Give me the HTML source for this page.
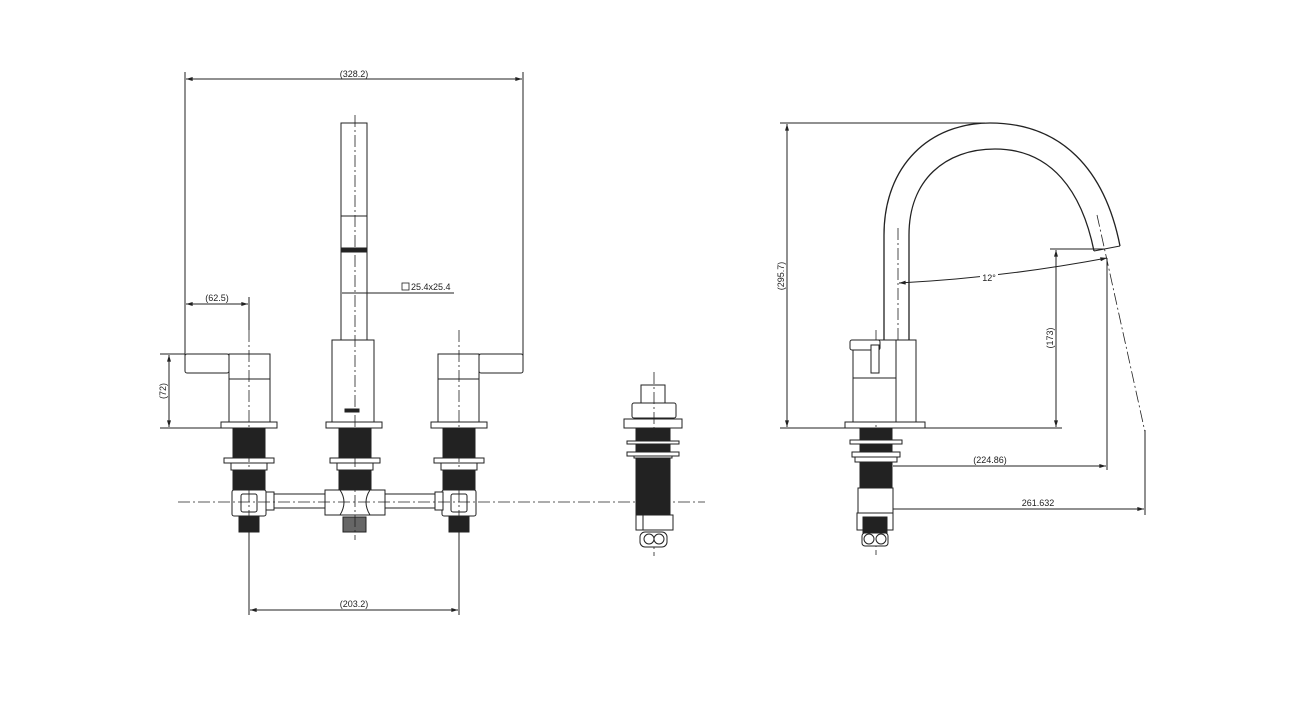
<!DOCTYPE html>
<html><head><meta charset="utf-8"><style>
html,body{margin:0;padding:0;background:#fff;}
svg{display:block;}
text{font-family:"Liberation Sans",sans-serif;font-size:9px;fill:#222;}
</style></head><body>
<svg width="1300" height="705" viewBox="0 0 1300 705" xmlns="http://www.w3.org/2000/svg">
<defs>
<marker id="a" viewBox="0 0 10 6" refX="10" refY="3" markerWidth="10" markerHeight="4" orient="auto-start-reverse"><path d="M0,0L10,3L0,6z" fill="#222"/></marker>
</defs>
<g stroke="#222" stroke-width="1" fill="none">
<!-- ===== LEFT VIEW ===== -->
<!-- dims -->
<line x1="185" y1="72" x2="185" y2="360"/>
<line x1="523" y1="72" x2="523" y2="368"/>
<line x1="186" y1="79" x2="522" y2="79" marker-start="url(#a)" marker-end="url(#a)"/>
<line x1="249" y1="297" x2="249" y2="330"/>
<line x1="186" y1="304" x2="248" y2="304" marker-start="url(#a)" marker-end="url(#a)"/>
<line x1="342" y1="293" x2="454" y2="293"/>
<line x1="160" y1="354" x2="185" y2="354"/>
<line x1="160" y1="428" x2="222" y2="428"/>
<line x1="169" y1="355" x2="169" y2="427" marker-start="url(#a)" marker-end="url(#a)"/>
<line x1="249" y1="532" x2="249" y2="615"/>
<line x1="459" y1="532" x2="459" y2="615"/>
<line x1="250" y1="610" x2="458" y2="610" marker-start="url(#a)" marker-end="url(#a)"/>
<!-- spout -->
<rect x="341" y="123" width="26" height="217"/>
<line x1="341" y1="216" x2="367" y2="216"/>
<rect x="341" y="248" width="26" height="4" fill="#222"/>
<rect x="332" y="340" width="42" height="82"/>
<rect x="326" y="422" width="56" height="6"/>
<rect x="345" y="409" width="14" height="3" fill="#222"/>
<!-- left handle -->
<rect x="185" y="354" width="44" height="19" rx="2"/>
<rect x="229" y="354" width="41" height="68"/>
<line x1="229" y1="379" x2="270" y2="379"/>
<rect x="221" y="422" width="56" height="6"/>
<!-- right handle -->
<rect x="479" y="354" width="44" height="19" rx="2"/>
<rect x="438" y="354" width="41" height="68"/>
<line x1="438" y1="379" x2="479" y2="379"/>
<rect x="431" y="422" width="56" height="6"/>
<!-- shanks -->
<g fill="#222">
<rect x="233" y="428" width="32" height="30"/><rect x="233" y="470" width="32" height="22"/>
<rect x="339" y="428" width="32" height="30"/><rect x="339" y="470" width="32" height="22"/>
<rect x="443" y="428" width="32" height="30"/><rect x="443" y="470" width="32" height="22"/>
<rect x="239" y="517" width="20" height="15"/>
<rect x="449" y="517" width="20" height="15"/>
</g>
<rect x="343" y="517" width="23" height="15" fill="#666"/>
<g fill="#fff">
<rect x="224" y="458" width="50" height="5"/><rect x="231" y="463" width="36" height="7"/>
<rect x="330" y="458" width="50" height="5"/><rect x="337" y="463" width="36" height="7"/>
<rect x="434" y="458" width="50" height="5"/><rect x="441" y="463" width="36" height="7"/>
<rect x="266" y="494" width="59" height="14"/>
<rect x="385" y="494" width="58" height="14"/>
<rect x="232" y="490" width="34" height="26" rx="2"/>
<rect x="241" y="494" width="16" height="18" rx="2"/>
<rect x="442" y="490" width="34" height="26" rx="2"/>
<rect x="451" y="494" width="16" height="18" rx="2"/>
<rect x="266" y="492" width="8" height="18"/>
<rect x="435" y="492" width="8" height="18"/>
<path d="M325,490 H385 V515 H325 Z"/>
<path d="M340,490 Q348,502 340,515 M370,490 Q362,502 370,515"/>
</g>
<!-- centerlines -->
<g stroke-dasharray="12,3,2,3" stroke-width="0.8">
<line x1="178" y1="502" x2="705" y2="502"/>
<line x1="355" y1="115" x2="355" y2="540"/>
<line x1="249" y1="330" x2="249" y2="540"/>
<line x1="459" y1="330" x2="459" y2="540"/>
<line x1="654" y1="372" x2="654" y2="556"/>
</g>
<!-- ===== MIDDLE VIEW ===== -->
<rect x="641" y="385" width="24" height="18"/>
<rect x="632" y="403" width="44" height="15" rx="2"/>
<rect x="624" y="419" width="58" height="9"/>
<rect x="636" y="428" width="34" height="87" fill="#222"/>
<rect x="627" y="441" width="52" height="3" fill="#fff"/>
<rect x="627" y="452" width="52" height="4" fill="#fff"/>
<rect x="634" y="456" width="38" height="2" fill="#fff"/>
<rect x="636" y="515" width="37" height="15" fill="#fff"/>
<line x1="643" y1="515" x2="643" y2="530"/>
<rect x="640" y="532" width="27" height="15" rx="5" fill="#fff"/>
<circle cx="649" cy="539" r="5"/><circle cx="659" cy="539" r="5"/>
<!-- ===== RIGHT VIEW ===== -->
<line x1="780" y1="123" x2="985" y2="123"/>
<line x1="780" y1="428" x2="1062" y2="428"/>
<line x1="787" y1="124" x2="787" y2="427" marker-start="url(#a)" marker-end="url(#a)"/>
<line x1="1050" y1="249" x2="1105" y2="249"/>
<line x1="1056" y1="250" x2="1056" y2="427" marker-start="url(#a)" marker-end="url(#a)"/>
<path d="M884,340 V235 C884,165 930,123 990,123 C1062,123 1105,170 1120,246" stroke-width="1.3"/>
<path d="M909,340 V235 C909,180 945,149 995,149 C1052,149 1082,192 1094,251" stroke-width="1.3"/>
<line x1="1094" y1="251" x2="1120" y2="246"/>
<path d="M899,283 Q1000,278 1107,258" marker-start="url(#a)" marker-end="url(#a)"/>
<line x1="1107" y1="258" x2="1107" y2="470"/>
<line x1="1145" y1="430" x2="1145" y2="515"/>
<line x1="893" y1="466" x2="1106" y2="466" marker-end="url(#a)"/>
<line x1="890" y1="509" x2="1144" y2="509" marker-end="url(#a)"/>
<g stroke-dasharray="12,3,2,3" stroke-width="0.8">
<line x1="1097" y1="215" x2="1145" y2="432"/>
<line x1="898" y1="228" x2="898" y2="420"/>
<line x1="876" y1="330" x2="876" y2="555"/>
</g>
<!-- body -->
<rect x="853" y="340" width="63" height="82" fill="#fff"/>
<rect x="850" y="340" width="30" height="10" rx="2" fill="#fff"/>
<rect x="871" y="345" width="8" height="28" fill="#fff"/>
<line x1="853" y1="378" x2="896" y2="378"/>
<line x1="896" y1="340" x2="896" y2="422"/>
<rect x="845" y="422" width="80" height="6"/>
<rect x="860" y="428" width="32" height="60" fill="#222"/>
<rect x="850" y="440" width="52" height="4" fill="#fff"/>
<rect x="852" y="452" width="48" height="5" fill="#fff"/>
<rect x="855" y="457" width="42" height="5" fill="#fff"/>
<rect x="858" y="488" width="35" height="25" fill="#fff"/>
<rect x="857" y="513" width="36" height="17" fill="#fff"/>
<rect x="863" y="517" width="24" height="16" fill="#222"/>
<rect x="862" y="533" width="26" height="13" rx="3" fill="#fff"/>
<circle cx="869" cy="539" r="5"/><circle cx="881" cy="539" r="5"/>
</g>
<g>
<text x="354" y="77" text-anchor="middle">(328.2)</text>
<text x="217" y="301" text-anchor="middle">(62.5)</text>
<rect x="402" y="283" width="7" height="7" fill="none" stroke="#222" stroke-width="0.8"/>
<text x="411" y="290">25.4x25.4</text>
<text x="354" y="607" text-anchor="middle">(203.2)</text>
<text transform="translate(166,391) rotate(-90)" text-anchor="middle">(72)</text>
<text transform="translate(784,276) rotate(-90)" text-anchor="middle">(295.7)</text>
<text transform="translate(1053,338) rotate(-90)" text-anchor="middle">(173)</text>
<rect x="980" y="271" width="18" height="11" fill="#fff"/>
<text x="989" y="281" text-anchor="middle">12°</text>
<text x="990" y="463" text-anchor="middle">(224.86)</text>
<text x="1038" y="506" text-anchor="middle">261.632</text>
</g>
</svg>
</body></html>
